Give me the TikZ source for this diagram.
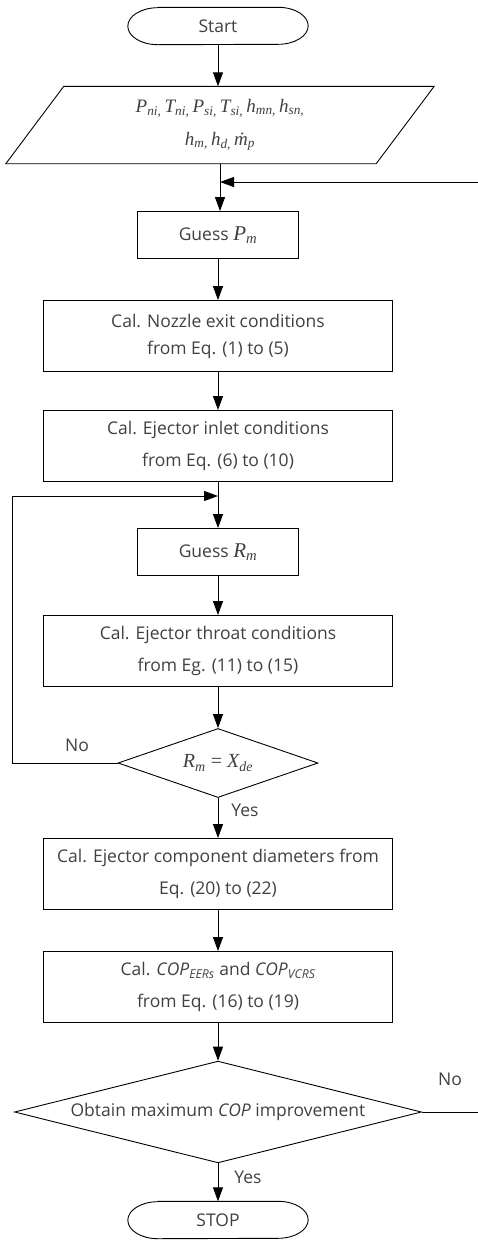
\documentclass[tikz,border=0pt]{standalone}
\usepackage{fontspec}
\setmainfont{Open Sans}
\newfontfamily\tnr{Liberation Serif}
\usetikzlibrary{arrows.meta,shapes.geometric}
\newcommand{\mv}[2]{{\tnr\itshape #1\textsubscript{#2}}}

\begin{document}
\begin{tikzpicture}[x=1pt,y=-1pt,
    every node/.style={text=black!75, font=\fontsize{17.5}{32}\selectfont},
    box/.style={draw=black, line width=0.9pt, minimum width=349pt, minimum height=71pt, align=center, inner sep=0pt},
    smallbox/.style={box, minimum width=161pt, minimum height=47pt},
    termbox/.style={minimum width=180pt, minimum height=37pt, inner sep=0pt},
    iobox/.style={minimum width=370pt, minimum height=77pt, inner sep=0pt, align=center,
        font=\fontsize{19}{33}\selectfont},
    test/.style={draw=black, line width=0.9pt, diamond, aspect=3.5, inner sep=0pt},
    arr/.style={-{Triangle[length=14pt,width=10pt]}, line width=0.9pt}]
    \useasboundingbox (0,0) rectangle (478,1240);
    % terminals and boxes
    \node[termbox] (start) at (218,26) {Start};
    \node[iobox] (inp) at (220,125) {\mv{P}{ni,}\,\mv{T}{ni,}\,\mv{P}{si,}\,\mv{T}{si,}\,\mv{h}{mn,}\,\mv{h}{sn,}\\
        \mv{h}{m,}\,\mv{h}{d,}\,\mv{\.m}{p}};
    \node[smallbox] (gpm) at (218,235) {Guess {\tnr\fontsize{21}{21}\selectfont\itshape P\textsubscript{m}}};
    \node[box] (noz) at (218,336) {Cal. Nozzle exit conditions\\[-5pt]from Eq. (1) to (5)};
    \node[box] (inl) at (218,446) {Cal. Ejector inlet conditions\\from Eq. (6) to (10)};
    \node[smallbox] (grm) at (218,552) {Guess {\tnr\fontsize{21}{21}\selectfont\itshape R\textsubscript{m}}};
    \node[box] (thr) at (218,651) {Cal. Ejector throat conditions\\from Eg. (11) to (15)};
    \node[test, minimum width=200pt, minimum height=69pt] (chk) at (218,763)
        {{\tnr\fontsize{20}{20}\selectfont\itshape R\textsubscript{m} \upshape= \itshape X\textsubscript{de}}};
    \node[box] (dia) at (218,874) {Cal. Ejector component diameters from\\Eq. (20) to (22)};
    \node[box] (cop) at (218,987) {Cal. {\itshape COP}\textsubscript{\itshape EERs} and {\itshape COP}\textsubscript{\itshape VCRS}\\from Eq. (16) to (19)};
    \node[test, minimum width=407pt, minimum height=98pt] (opt) at (218,1112) {Obtain maximum {\itshape COP} improvement};
    \node[termbox] (stop) at (218,1220) {STOP};
    % outlines of the terminals and the input box
    \foreach \t in {start,stop}
        \draw[line width=0.9pt] ([xshift=30pt]\t.north west) -- ([xshift=-30pt]\t.north east)
            arc[start angle=-90, end angle=90, x radius=30, y radius=18.5]
            -- ([xshift=30pt]\t.south west)
            arc[start angle=90, end angle=270, x radius=30, y radius=18.5] -- cycle;
    \draw[line width=0.9pt] ([xshift=29pt]inp.north west) -- ([xshift=29pt]inp.north east)
        -- ([xshift=-29pt]inp.south east) -- ([xshift=-29pt]inp.south west) -- cycle;
    % labels
    \node (no1) at (77,745) {No};
    \node (yes1) at (245,810) {Yes};
    \node (no2) at (450,1079) {No};
    \node (yes2) at (248,1177) {Yes};
    % connectors
    \foreach \a/\b in {start/inp, inp/gpm, gpm/noz, noz/inl, inl/grm, grm/thr, thr/chk, chk/dia, dia/cop, cop/opt, opt/stop}
        \draw[arr] (\a.south |- \a.south) -- (\a.south |- \b.north);
    \coordinate (lc) at (12,763);
    \coordinate (lj) at (218,496);
    \draw[arr] (chk.west) -- (lc) |- (lj);
    \coordinate (rc) at (484,1112);
    \coordinate (rj) at (220,182);
    \draw[arr] (opt.east) -- (rc) |- (rj);
\end{tikzpicture}
\end{document}
